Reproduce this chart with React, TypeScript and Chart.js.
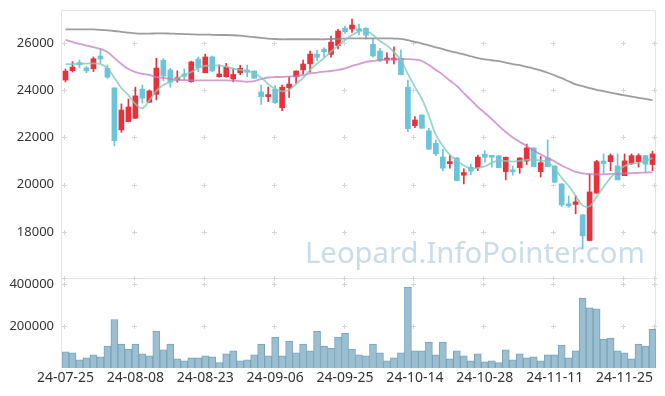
import React, { useEffect, useRef } from 'react';
import { Chart, registerables } from 'chart.js';

Chart.register(...registerables);

const dates = [
  '24-07-25','24-07-26','24-07-29','24-07-30','24-07-31','24-08-01','24-08-02','24-08-05','24-08-06','24-08-07',
  '24-08-08','24-08-09','24-08-12','24-08-13','24-08-14','24-08-16','24-08-19','24-08-20','24-08-21','24-08-22',
  '24-08-23','24-08-26','24-08-27','24-08-28','24-08-29','24-08-30','24-09-02','24-09-03','24-09-04','24-09-05',
  '24-09-06','24-09-09','24-09-10','24-09-11','24-09-12','24-09-13','24-09-19','24-09-20','24-09-23','24-09-24',
  '24-09-25','24-09-26','24-09-27','24-09-30','24-10-02','24-10-04','24-10-07','24-10-08','24-10-10','24-10-11',
  '24-10-14','24-10-15','24-10-16','24-10-17','24-10-18','24-10-21','24-10-22','24-10-23','24-10-24','24-10-25',
  '24-10-28','24-10-29','24-10-30','24-10-31','24-11-01','24-11-04','24-11-05','24-11-06','24-11-07','24-11-08',
  '24-11-11','24-11-12','24-11-13','24-11-14','24-11-15','24-11-18','24-11-19','24-11-20','24-11-21','24-11-22',
  '24-11-25','24-11-26','24-11-27','24-11-28','24-11-29'
];

const opens = [
  24430,24830,25170,24950,24910,25450,24930,24100,22320,22670,
  22810,24050,23490,23830,25270,24860,24430,24690,24360,25320,
  24740,25410,24570,24570,24480,24740,24860,24815,23930,23730,
  24040,23260,24110,24570,24860,25120,25530,25730,25520,25890,
  26635,26590,26580,26630,25945,25660,25280,25280,25350,24125,
  22500,22950,22275,21750,21170,20890,21130,20400,20740,20720,
  21290,21190,21220,20550,20580,20720,21000,21555,20550,21130,
  20790,20030,19185,19160,18720,17630,19640,21000,20975,20790,
  20380,20890,20975,21230,20850
];
const highs = [
  24900,25210,25280,25000,25410,25730,25070,24100,23420,23630,
  24130,24220,24010,25360,25340,24930,24820,24900,25230,25410,
  25530,25450,25070,25140,24930,25060,25060,24820,24220,24130,
  24200,24220,24570,24820,25280,25660,25690,25800,26300,26580,
  26720,27020,26800,26640,26200,25780,25590,25840,25700,24430,
  22880,22960,22390,21890,21500,21230,21150,20670,20880,21250,
  21440,21200,21230,21170,20790,21140,21720,21560,21190,21890,
  20800,20040,19520,19520,18730,20450,21030,21300,21300,21300,
  21300,21300,21300,21240,21420
];
const lows = [
  24350,24770,24950,24740,24790,25140,24500,21640,22220,22660,
  22800,23450,23480,23590,24390,24130,24340,24430,24340,24790,
  24740,24780,24550,24550,24360,24650,24570,24500,23400,23510,
  23440,23130,23700,24290,24690,24770,25250,25420,25400,25750,
  26410,26450,26340,26160,25400,25210,25140,25110,24650,22240,
  22410,22380,21490,21230,20590,20700,20160,20030,20410,20590,
  20950,20740,20710,20200,20400,20480,20850,20750,20320,20750,
  20090,19070,19040,18760,17270,17620,19630,20480,20590,20200,
  20380,20850,20740,20550,20590
];
const closes = [
  24810,24980,25080,24820,25335,25320,24550,21860,23160,23290,
  23760,23660,23970,24940,24600,24340,24530,24600,25200,24955,
  25410,24820,24690,24980,24670,24930,24760,24510,23730,23800,
  23470,24125,24260,24815,25110,25530,25400,25630,26040,26510,
  26480,26760,26520,26330,25450,25250,25350,25365,24660,22370,
  22740,22390,21500,21300,20700,20975,20170,20510,20570,21170,
  21160,21160,20720,21160,20540,21130,21555,20760,20930,20760,
  20100,19140,19100,19270,17830,19690,20975,20890,21230,20200,
  21005,21230,21230,20865,21300
];
const volumes = [
  76800,72000,39300,48700,62800,53400,104900,231400,114300,90900,
  114300,67400,58100,175200,86200,114300,44000,34700,48700,48700,
  58100,53400,25300,67400,81500,34700,39300,62800,114300,58100,
  147100,58100,128300,72000,114300,81500,175200,104900,95600,147100,
  165800,90900,62800,58100,114300,72000,34700,48700,72000,386000,
  81500,81500,123700,62800,123700,44000,81500,58100,34700,67400,
  30000,34700,25300,86200,39300,67400,48700,53400,34700,62800,
  62800,109600,48700,81500,334400,287600,282900,137700,142400,81500,
  72000,44000,114300,104900,184600
];
const ma5 = [
  25100,25110,25125,25130,25140,25110,24940,24520,24095,23790,
  23420,23230,23570,23970,24220,24350,24500,24645,24770,24940,
  25030,25050,25050,25000,24920,24860,24815,24730,24540,24265,
  24050,23950,24010,24265,24520,24860,25130,25365,25640,25890,
  26130,26340,26490,26530,26340,26085,25890,25620,25280,24690,
  24140,23630,22910,22105,21640,21260,21025,20810,20670,20710,
  20770,20920,21025,21005,20975,21005,21045,21045,21025,20960,
  20670,20285,19950,19525,19120,19080,19480,19900,20285,20580,
  20790,20880,20920,21005,21120
];
const ma20 = [
  26130,26040,25960,25890,25830,25750,25620,25365,25110,24900,
  24770,24690,24650,24560,24520,24480,24430,24430,24420,24420,
  24420,24420,24420,24420,24410,24390,24360,24390,24475,24540,
  24560,24560,24580,24600,24645,24710,24750,24790,24815,24860,
  24930,25030,25110,25200,25240,25280,25300,25320,25320,25320,
  25300,25240,25070,24860,24650,24410,24180,23880,23590,23290,
  23040,22780,22490,22230,22000,21810,21640,21450,21280,21130,
  20980,20810,20670,20540,20480,20440,20430,20440,20455,20455,
  20480,20485,20500,20510,20520
];
const ma60 = [
  26580,26580,26580,26580,26575,26560,26540,26510,26470,26440,
  26410,26400,26400,26410,26410,26400,26390,26380,26370,26360,
  26360,26350,26340,26340,26330,26310,26280,26250,26220,26190,
  26170,26160,26160,26160,26160,26160,26160,26160,26170,26180,
  26190,26200,26200,26200,26200,26200,26200,26190,26180,26120,
  26050,25980,25900,25820,25740,25660,25590,25520,25440,25360,
  25310,25270,25230,25170,25110,25060,24990,24920,24840,24740,
  24630,24510,24380,24250,24170,24090,24020,23960,23900,23840,
  23780,23730,23680,23630,23580
];

const priceTicks = [26000, 24000, 22000, 20000, 18000];
const volumeTicks = [400000, 200000];
const WATERMARK = 'Leopard.InfoPointer.com';

const UP = '#e8323b';
const DOWN = '#6cc4db';
const FONT = '"Noto Sans", sans-serif';

const deco = {
  id: 'deco',
  beforeDatasetsDraw(chart: any) {
    const { ctx, chartArea: ca, scales } = chart;
    const sx = scales.x, sy = scales.y, sv = scales.yv;
    ctx.save();
    // watermark
    ctx.fillStyle = 'rgba(178,205,222,0.7)';
    let size = 30;
    ctx.font = `${size}px ${FONT}`;
    const w = ctx.measureText(WATERMARK).width;
    size = (size * 340) / w;
    ctx.font = `${size}px ${FONT}`;
    ctx.textBaseline = 'alphabetic';
    ctx.textAlign = 'left';
    ctx.fillText(WATERMARK, 305, 263);

    // frame
    ctx.strokeStyle = '#e4e4e4';
    ctx.lineWidth = 1;
    const L = Math.round(ca.left) - 0.5;
    const R = Math.round(ca.right) - 0.5;
    const T = Math.round(ca.top) + 0.5;
    const B = Math.round(ca.bottom);
    const S = Math.round(sy.bottom) - 0.5;
    ctx.beginPath();
    ctx.moveTo(L, T); ctx.lineTo(R, T);
    ctx.moveTo(L, T); ctx.lineTo(L, B);
    ctx.moveTo(R, T); ctx.lineTo(R, B);
    ctx.moveTo(L, S); ctx.lineTo(R, S);
    ctx.stroke();

    // grid crosses
    ctx.strokeStyle = '#d6d6d6';
    const xs: number[] = [];
    for (let i = 0; i < dates.length; i += 10) xs.push(Math.floor(sx.getPixelForValue(i)) - 1);
    xs.push(Math.round(ca.right) - 2);
    const ys: number[] = [
      ...priceTicks.map((v) => sy.getPixelForValue(v)),
      sy.bottom - 1,
      ...volumeTicks.map((v) => sv.getPixelForValue(v)),
    ].map((v) => Math.round(v));
    ctx.beginPath();
    for (const x of xs) {
      for (const y of ys) {
        ctx.moveTo(x - 2, y + 0.5); ctx.lineTo(x + 3, y + 0.5);
        ctx.moveTo(x + 0.5, y - 2); ctx.lineTo(x + 0.5, y + 3);
      }
    }
    ctx.stroke();

    // y tick labels
    ctx.fillStyle = '#333';
    ctx.font = `13px ${FONT}`;
    ctx.textAlign = 'right';
    ctx.textBaseline = 'middle';
    const lx = Math.round(ca.left) - 8;
    for (const v of priceTicks) ctx.fillText(String(v), lx, sy.getPixelForValue(v));
    for (const v of volumeTicks) ctx.fillText(String(v), lx, sv.getPixelForValue(v));
    ctx.restore();
  },
};

export default function App() {
  const ref = useRef<HTMLCanvasElement>(null);
  useEffect(() => {
    const canvas = ref.current;
    if (!canvas) return;
    const colors = closes.map((c, i) => (c >= opens[i] ? UP : DOWN));
    const chart = new Chart(canvas, {
      type: 'bar',
      data: {
        labels: dates,
        datasets: [
          { type: 'line', label: 'MA5', data: ma5, yAxisID: 'y', borderColor: 'rgba(128,202,188,0.8)', borderWidth: 1.8, pointRadius: 0, tension: 0.35, order: 0 } as any,
          { type: 'line', label: 'MA20', data: ma20, yAxisID: 'y', borderColor: 'rgba(196,124,194,0.75)', borderWidth: 1.8, pointRadius: 0, tension: 0.35, order: 0 } as any,
          { type: 'line', label: 'MA60', data: ma60, yAxisID: 'y', borderColor: 'rgba(140,140,140,0.85)', borderWidth: 1.8, pointRadius: 0, tension: 0.35, order: 0 } as any,
          { type: 'bar', label: 'body', data: opens.map((o, i) => [o, closes[i]]), yAxisID: 'y', backgroundColor: colors, barThickness: 5, grouped: false, minBarLength: 2, order: 1 } as any,
          { type: 'bar', label: 'wick', data: lows.map((l, i) => [l, highs[i]]), yAxisID: 'y', backgroundColor: colors, barThickness: 1, grouped: false, order: 2 } as any,
          { type: 'bar', label: 'volume', data: volumes, yAxisID: 'yv', backgroundColor: '#9bbfd1', borderColor: '#78a3b9', borderWidth: 1, barPercentage: 1, categoryPercentage: 1, grouped: false, order: 3 } as any,
        ],
      },
      options: {
        responsive: false,
        animation: false,
        devicePixelRatio: 1,
        layout: { padding: { top: 10, right: 9, left: 0, bottom: 0 } },
        plugins: { legend: { display: false }, tooltip: { enabled: false } },
        scales: {
          x: {
            offset: true,
            grid: { display: false, drawTicks: false },
            border: { display: false },
            ticks: {
              autoSkip: false, maxRotation: 0, minRotation: 0, padding: 2,
              color: '#333', font: { family: FONT, size: 14 },
              callback: (_v: any, i: number) => (i % 10 === 0 ? dates[i] : ''),
            },
            afterFit: (s: any) => { s.height = 28; },
          },
          yv: {
            position: 'left', stack: 'p', stackWeight: 89, min: 0, max: 425000,
            grid: { display: false, drawTicks: false },
            border: { display: false },
            ticks: { display: false },
            afterFit: (s: any) => { s.width = 62; },
          },
          y: {
            position: 'left', stack: 'p', stackWeight: 269, min: 16000, max: 27400,
            grid: { display: false, drawTicks: false },
            border: { display: false },
            ticks: { display: false },
            afterFit: (s: any) => { s.width = 62; },
          },
        },
      } as any,
      plugins: [deco],
    });
    return () => chart.destroy();
  }, []);

  return (
    <div style={{ position: 'fixed', left: 0, top: 0, width: 665, height: 396, background: '#fff' }}>
      <canvas ref={ref} width={665} height={396} style={{ display: 'block', width: 665, height: 396 }} />
    </div>
  );
}
